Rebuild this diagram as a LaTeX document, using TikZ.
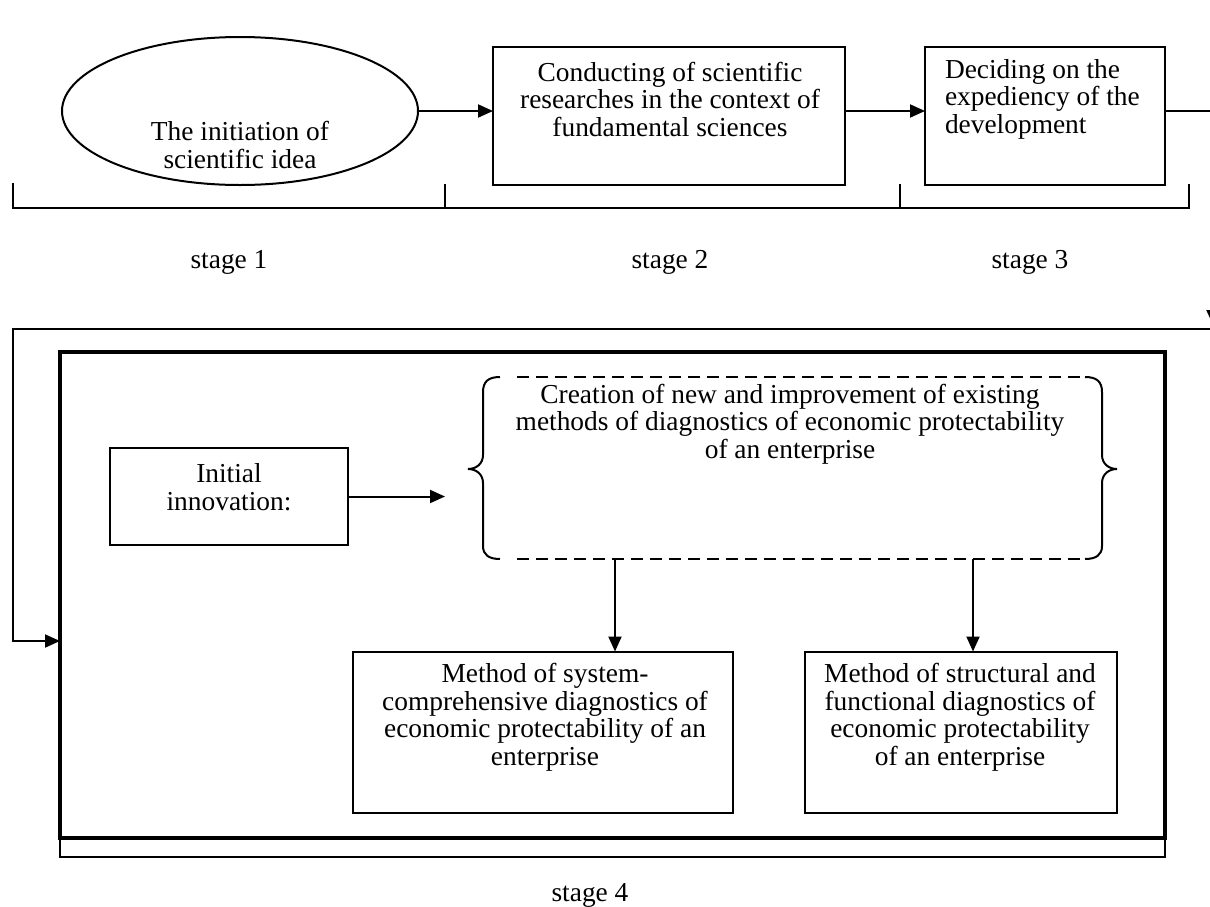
\documentclass[tikz,border=0pt]{standalone}
\usepackage{fontspec}
\setmainfont{Liberation Serif}
\usetikzlibrary{arrows.meta}
\usetikzlibrary{shapes.geometric}
\tikzstyle{box}=[draw, line width=1pt, inner sep=0, outer sep=0]
\tikzstyle{label}=[inner sep=0, outer sep=0, align=center, font=\fontsize{13.7}{13.75}\selectfont]
\tikzstyle{arr}=[line width=1pt, -{Triangle[length=7.5pt, width=6.5pt]}]
\tikzstyle{stageline}=[line width=1pt]
\tikzstyle{stagebrace}=[line width=1pt]
\tikzstyle{scheme}=[x=0.5pt, y=-0.5pt,
                    % dashed frame round the new methods
                    dashframe/.style={line width=1pt, dash pattern=on 6pt off 3.5pt}]

\begin{document}
\begin{tikzpicture}[scheme]
    \useasboundingbox (0,0) rectangle (1210,906);
    % stages 1-3
    \node[box, ellipse, minimum width=178pt, minimum height=74pt] (idea) at (240,111) {};
    \node[label] (ideatext) at (240,145) {The initiation of\\scientific idea};
    \node[box, minimum width=176pt, minimum height=69pt] (research) at (669,116) {};
    \node[label] (researchtext) at (670,99) {Conducting of scientific\\researches in the context of\\fundamental sciences};
    \node[box, minimum width=120pt, minimum height=69pt] (decide) at (1045,116) {};
    \node[label, align=left, anchor=west] (decidetext) at (945,99) {Deciding on the\\expediency of the\\development};
    \draw[arr] (idea.east) -- (idea.east -| research.west);
    \draw[arr] (research.east |- idea.east) -- (decide.west |- idea.east);
    \coordinate (loopout) at (1213,329);
    \coordinate (loopin) at (13,641);
    \draw[arr] (decide.east |- idea.east) -- (idea.east -| loopout) -- ([yshift=2pt]loopout);
    \draw[stageline] (13,183) -- (13,208) -- (1189,208) -- (1189,184);
    \draw[stageline] (445,184) -- (445,208);
    \draw[stageline] (900,184) -- (900,208);
    \node[label] (stage1) at (229,262) {stage 1};
    \node[label] (stage2) at (670,262) {stage 2};
    \node[label] (stage3) at (1030,262) {stage 3};
    % stage 4
    \node[draw, line width=1.7pt, inner sep=0, outer sep=0, minimum width=552.5pt, minimum height=243pt] (frame) at (612.5,595) {};
    \draw[stagebrace] (frame.south west) rectangle ([yshift=-9.5pt]frame.south east);
    \node[label] (stage4) at (590,895) {stage 4};
    \draw[arr] (loopout) -- (loopout -| loopin) -- (loopin) -- (loopin -| frame.west);
    \node[box, minimum width=119pt, minimum height=48.5pt] (initial) at (229,496.5) {};
    \node[label] (initialtext) at (229,487) {Initial\\innovation:};
    \node[inner sep=0, outer sep=0, minimum width=309.5pt, minimum height=91pt] (creation) at (792.5,468) {};
    \node[label] (creationtext) at (790,424) {Creation of new and improvement of existing\\methods of diagnostics of economic protectability\\of an enterprise};
    \draw[dashframe] ([xshift=17pt]creation.north west) -- ([xshift=-11pt]creation.north east);
    \draw[dashframe] ([xshift=17pt]creation.south west) -- ([xshift=-11pt]creation.south east);
    \draw[line width=1pt] (500,377) .. controls (489,377) and (483,381) .. (483,392) -- (483,455)
        .. controls (483,464) and (476,469) .. (468,469) .. controls (476,469) and (483,474) .. (483,483)
        -- (483,546) .. controls (483,555) and (489,559) .. (500,559);
    \draw[line width=1pt] (1085,377) .. controls (1096,377) and (1102,381) .. (1102,392) -- (1102,455)
        .. controls (1102,464) and (1109,469) .. (1117,469) .. controls (1109,469) and (1102,474) .. (1102,483)
        -- (1102,546) .. controls (1102,555) and (1096,559) .. (1085,559);
    \draw[arr] (initial.east) -- ([xshift=-19pt]creation.west |- initial.east);
    \node[box, minimum width=190pt, minimum height=80.5pt] (sysdiag) at (543,732) {};
    \node[label] (sysdiagtext) at (545,717.5) {Method of system-\\comprehensive diagnostics of\\economic protectability of an\\enterprise};
    \node[box, minimum width=156pt, minimum height=80.5pt] (strdiag) at (961,732) {};
    \node[label] (strdiagtext) at (960,717.5) {Method of structural and\\functional diagnostics of\\economic protectability\\of an enterprise};
    \coordinate (sysin) at ([xshift=36pt]sysdiag.north);
    \coordinate (strin) at ([xshift=6pt]strdiag.north);
    \draw[arr] (sysin |- creation.south) -- (sysin);
    \draw[arr] (strin |- creation.south) -- (strin);
\end{tikzpicture}
\end{document}
